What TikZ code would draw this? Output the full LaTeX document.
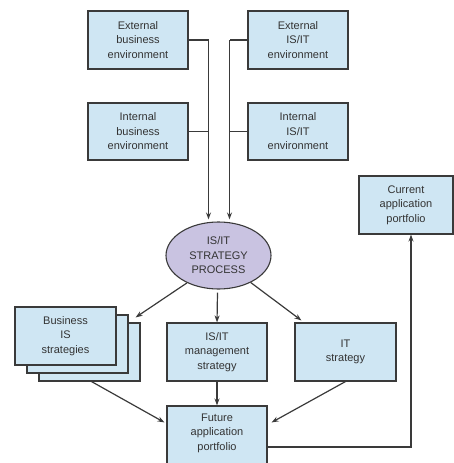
\documentclass[tikz,border=0pt]{standalone}
\usepackage{fontspec}
\setmainfont{Liberation Sans}
\usetikzlibrary{shapes.geometric,arrows.meta,calc}
\definecolor{boxfill}{HTML}{CFE6F3}
\definecolor{ellfill}{HTML}{C9C3E1}
\definecolor{linec}{HTML}{3A3A3A}
\definecolor{txt}{HTML}{333333}
\begin{document}
\begin{tikzpicture}[x=1pt,y=-1pt,
  every node/.style={font=\fontsize{11}{14.5}\selectfont, text=txt, align=center, inner sep=0pt},
  box/.style={draw=linec, line width=1.1pt, fill=boxfill, minimum width=100pt, minimum height=58pt},
  proc/.style={ellipse, draw=linec, line width=1.1pt, fill=ellfill, minimum width=105pt, minimum height=67pt},
  conn/.style={draw=linec, line width=1.2pt},
  arr/.style={conn, -{Stealth[length=7pt,width=5pt]}}]
\clip (0,0) rectangle (454,463);
\useasboundingbox (0,0) rectangle (454,463);
% top boxes
\node[box] (eb) at (138,40) {External\\business\\environment};
\node[box] (ei) at (298,40) {External\\IS/IT\\environment};
\node[box, minimum height=57pt] (ib) at (138,131.5) {Internal\\business\\environment};
\node[box, minimum height=57pt] (ii) at (298,131.5) {Internal\\IS/IT\\environment};
% process
\node[proc] (proc) at (218.5,255.5) {IS/IT\\STRATEGY\\PROCESS};
% current portfolio
\node[box, minimum width=94pt] (cap) at (406,205) {Current\\application\\portfolio};
% business IS strategies stack
\node[box, minimum width=101pt] (bis3) at (89.5,352) {};
\node[box, minimum width=101pt] (bis2) at (77.5,344) {};
\node[box, minimum width=101pt] (bis) at (65.5,336) {Business\\IS\\strategies};
\node[box] (mgmt) at (217,352) {IS/IT\\management\\strategy};
\node[box, minimum width=101pt] (its) at (345.5,352) {IT\\strategy};
% future portfolio
\node[box, minimum height=64pt] (fut) at (217,438) {};
\node (futt) at (217,433) {Future\\application\\portfolio};
% inputs
\coordinate (jl) at (208.5,40);
\coordinate (jr) at (229.5,40);
\draw[conn] (eb.east) -- (jl);
\draw[conn] (ib.east) -- (ib.east -| jl);
\draw[arr] (jl) -- ($(jl |- proc.north)+(0,-2)$);
\draw[conn] (ei.west) -- (jr);
\draw[conn] (ii.west) -- (ii.west -| jr);
\draw[arr] (jr) -- ($(jr |- proc.north)+(0,-2)$);
% outputs of process
\draw[arr] (proc.221) -- ($(bis3.north east)+(-5,-5)$);
\draw[arr] ($(proc.south)+(-1,3)$) -- (mgmt.north);
\draw[arr] (proc.320) -- ($(its.north west)+(7,-2)$);
% to future
\draw[arr] ($(bis3.south)+(2,0)$) -- ($(fut.north west)+(-2,17)$);
\draw[arr] (mgmt.south) -- (fut.north);
\draw[arr] (its.south) -- ($(fut.north east)+(4,17)$);
% feedback to current
\draw[arr] ($(fut.east)+(0,9)$) -| ($(cap.south)+(5,0)$);
\end{tikzpicture}
\end{document}
